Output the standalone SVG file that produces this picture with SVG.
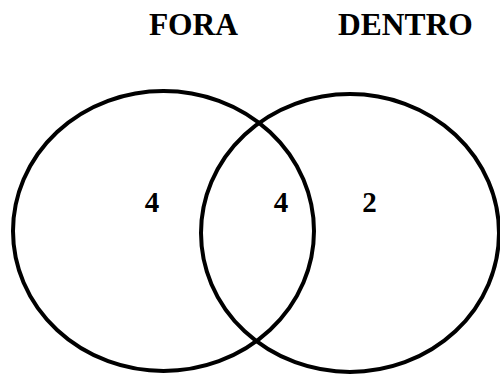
<svg xmlns="http://www.w3.org/2000/svg" width="500" height="374" viewBox="0 0 500 374">
<style>
.c{fill:none;stroke:#000;stroke-width:4}
.t{font-family:"Liberation Serif","Times New Roman",serif;font-weight:bold;fill:#000;text-anchor:middle}
</style>
<rect width="500" height="374" fill="#fff"/>
<g id="labels">
<text class="t" x="193.5" y="35" font-size="31.5">FORA</text>
<text class="t" x="405.5" y="35" font-size="31.5">DENTRO</text>
</g>
<g id="set-fora">
<ellipse class="c" cx="163.5" cy="231" rx="150.5" ry="140"/>
</g>
<g id="set-dentro">
<ellipse class="c" cx="350" cy="233" rx="149" ry="139"/>
</g>
<g id="counts">
<text class="t" x="152" y="212" font-size="29">4</text>
<text class="t" x="281" y="212" font-size="29">4</text>
<text class="t" x="369.5" y="212" font-size="29">2</text>
</g>
</svg>
